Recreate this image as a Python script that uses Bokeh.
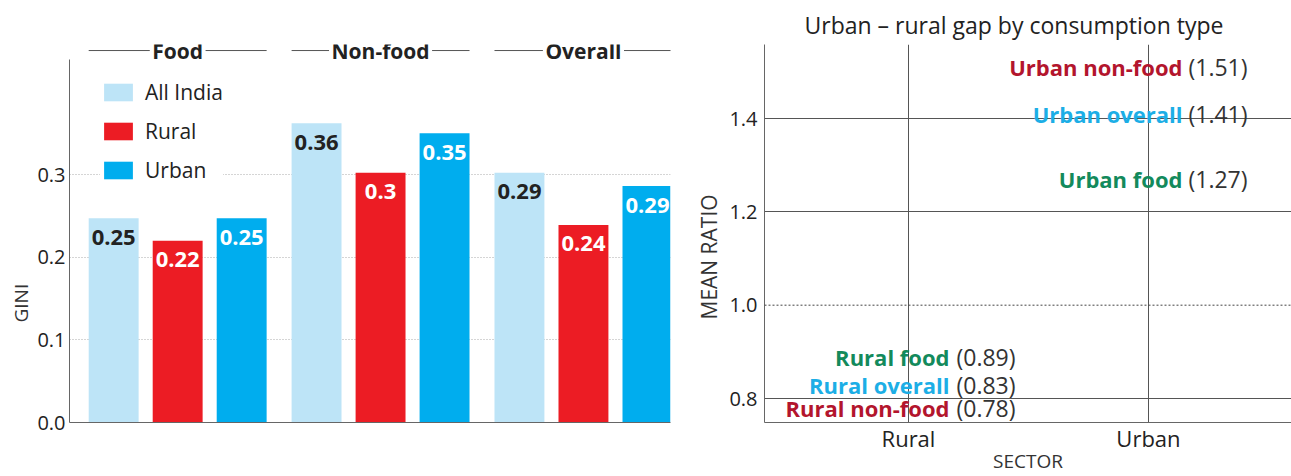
from bokeh.plotting import figure
from bokeh.layouts import row
from bokeh.models import Range1d, FixedTicker, ColumnDataSource, Span, LabelSet, Title
from bokeh.core.properties import value
from bokeh.embed import file_html
from bokeh.resources import INLINE

FONT = "Open Sans"

# ---------------- data: left chart (Gini) ----------------
groups = ["Food", "Non-food", "Overall"]
series = ["All India", "Rural", "Urban"]
all_india = [0.247, 0.362, 0.302]
rural = [0.220, 0.302, 0.239]
urban = [0.247, 0.350, 0.286]
all_india_labels = ["0.25", "0.36", "0.29"]
rural_labels = ["0.22", "0.3", "0.24"]
urban_labels = ["0.25", "0.35", "0.29"]
gini_ticks = [0.0, 0.1, 0.2, 0.3]
gini_tick_labels = ["0.0", "0.1", "0.2", "0.3"]

# ---------------- data: right chart (mean ratio) ----------------
sectors = ["Rural", "Urban"]
gap_sector = ["Urban", "Urban", "Urban", "Rural", "Rural", "Rural"]
gap_type = ["non-food", "overall", "food", "food", "overall", "non-food"]
gap_ratio = [1.51, 1.41, 1.27, 0.89, 0.83, 0.78]
ratio_ticks = [0.8, 1.0, 1.2, 1.4]
ratio_tick_labels = ["0.8", "1.0", "1.2", "1.4"]

# ---------------- styles ----------------
series_colors = {"All India": "#bde4f7", "Rural": "#ec1c24", "Urban": "#00adee"}
series_text_colors = {"All India": "#222222", "Rural": "#ffffff", "Urban": "#ffffff"}
type_colors = {"non-food": "#b3152d", "overall": "#1caee6", "food": "#138a5c"}
AXIS_COLOR = "#666666"
TEXT_COLOR = "#222222"
GROUP_STEP = 3.17
BAR_W = 0.78
HEADER_Y = 0.450
TOP_B = 44
BOT_B = 50
H = 476

# ================= left chart =================
left = figure(width=682, height=H, output_backend="svg", toolbar_location=None,
              x_range=Range1d(-0.69, 8.70), y_range=Range1d(0, 0.4573),
              min_border_left=69, min_border_right=12, min_border_top=TOP_B,
              min_border_bottom=BOT_B)
left.outline_line_color = None
left.background_fill_color = "white"

series_values = [all_india, rural, urban]
series_labels = [all_india_labels, rural_labels, urban_labels]
for s, name in enumerate(series):
    src = ColumnDataSource(dict(
        x=[g * GROUP_STEP + s for g in range(len(groups))],
        top=series_values[s],
        label=series_labels[s],
    ))
    left.vbar(x="x", top="top", width=BAR_W, source=src,
              fill_color=series_colors[name], line_color=None,
              legend_label=name)
    left.text(x="x", y="top", text="label", source=src,
              text_align="center", text_baseline="middle", y_offset=19,
              text_font=value(FONT), text_font_size="22px",
              text_font_style="bold", text_color=series_text_colors[name])

# group headers with side rules
hdr = ColumnDataSource(dict(
    x0=[g * GROUP_STEP - BAR_W / 2 for g in range(len(groups))],
    x1=[g * GROUP_STEP + len(series) - 1 + BAR_W / 2 for g in range(len(groups))],
    xc=[g * GROUP_STEP + (len(series) - 1) / 2 for g in range(len(groups))],
    y=[HEADER_Y] * len(groups),
    name=groups,
))
left.segment(x0="x0", y0="y", x1="x1", y1="y", source=hdr,
             line_color="#555555", line_width=1)
left.add_layout(LabelSet(x="xc", y="y", text="name", source=hdr,
                         text_align="center", text_baseline="middle",
                         text_font=value(FONT), text_font_size="21px",
                         text_font_style="bold", text_color=TEXT_COLOR,
                         background_fill_color="white",
                         border_line_color="white", border_line_width=5))

# axes
left.xaxis.ticker = FixedTicker(ticks=[])
left.xaxis.major_label_text_font_size = "0px"
left.xaxis.major_tick_line_color = None
left.xaxis.minor_tick_line_color = None
left.xaxis.major_tick_out = 0
left.xaxis.major_tick_in = 0
left.xaxis.axis_line_color = AXIS_COLOR

left.yaxis.ticker = FixedTicker(ticks=gini_ticks)
left.yaxis.major_label_overrides = {t: l for t, l in zip(gini_ticks, gini_tick_labels)}
left.yaxis.major_tick_line_color = None
left.yaxis.minor_tick_line_color = None
left.yaxis.major_tick_out = 0
left.yaxis.major_tick_in = 0
left.yaxis.axis_line_color = AXIS_COLOR
left.yaxis.bounds = (0, 0.4391)
left.yaxis.major_label_text_font = FONT
left.yaxis.major_label_text_font_size = "20px"
left.yaxis.major_label_text_color = TEXT_COLOR
left.yaxis.major_label_standoff = 4

gini_title = Title(text="GINI", align="left", offset=100, standoff=2,
                   text_font=FONT, text_font_size="19px", text_font_style="normal",
                   text_color="#333333")
left.add_layout(gini_title, "left")

left.xgrid.grid_line_color = None
left.ygrid.ticker = FixedTicker(ticks=[t for t in gini_ticks if t > 0])
left.ygrid.grid_line_color = "#aaaaaa"
left.ygrid.grid_line_dash = "1 2"

leg = left.legend[0]
leg.location = (31, 238)
leg.orientation = "vertical"
leg.border_line_color = None
leg.background_fill_color = "white"
leg.background_fill_alpha = 1.0
leg.padding = 0
leg.margin = 0
leg.spacing = 11
leg.glyph_width = 36
leg.glyph_height = 22
leg.label_standoff = 9
leg.label_text_font = FONT
leg.label_text_font_size = "21px"
leg.label_text_color = TEXT_COLOR

# ================= right chart =================
right = figure(width=609, height=H, output_backend="svg", toolbar_location=None,
               x_range=Range1d(-0.6, 1.596), y_range=Range1d(0.7486, 1.5586),
               min_border_left=82, min_border_right=0, min_border_top=TOP_B,
               min_border_bottom=BOT_B)
right.outline_line_color = None
right.title.text = "Urban \u2013 rural gap by consumption type"
right.title.text_font = FONT
right.title.text_font_size = "23px"
right.title.text_font_style = "normal"
right.title.text_color = TEXT_COLOR
right.title.align = "left"
right.title.offset = 40
right.title.standoff = 7

name_offsets = {"Rural": 41, "Urban": 34}
value_offsets = {"Rural": 48, "Urban": 40}
for sec in sectors:
    idx = [i for i, s in enumerate(gap_sector) if s == sec]
    src = ColumnDataSource(dict(
        x=[sectors.index(sec)] * len(idx),
        y=[gap_ratio[i] for i in idx],
        name=[f"{gap_sector[i]} {gap_type[i]}" for i in idx],
        val=[f"({gap_ratio[i]:.2f})" for i in idx],
        color=[type_colors[gap_type[i]] for i in idx],
    ))
    right.text(x="x", y="y", text="name", source=src, text_color="color",
               text_align="right", text_baseline="middle", x_offset=name_offsets[sec],
               text_font=value(FONT), text_font_size="22px", text_font_style="bold")
    right.text(x="x", y="y", text="val", source=src, text_color="#333333",
               text_align="left", text_baseline="middle", x_offset=value_offsets[sec],
               text_font=value(FONT), text_font_size="23px")

right.add_layout(Span(location=1.0, dimension="width", line_color="#444444",
                      line_dash="2 2", line_width=1), "center")

right.xaxis.ticker = FixedTicker(ticks=list(range(len(sectors))))
right.xaxis.major_label_overrides = {i: s for i, s in enumerate(sectors)}
right.xaxis.major_tick_line_color = None
right.xaxis.minor_tick_line_color = None
right.xaxis.major_tick_out = 0
right.xaxis.major_tick_in = 0
right.xaxis.axis_line_color = AXIS_COLOR
right.xaxis.major_label_text_font = FONT
right.xaxis.major_label_text_font_size = "22px"
right.xaxis.major_label_text_color = TEXT_COLOR
right.xaxis.major_label_standoff = 0
right.xaxis.axis_label = "SECTOR"
right.xaxis.axis_label_text_font = FONT
right.xaxis.axis_label_text_font_size = "19px"
right.xaxis.axis_label_text_font_style = "normal"
right.xaxis.axis_label_text_color = "#333333"
right.xaxis.axis_label_standoff = -8

right.yaxis.ticker = FixedTicker(ticks=ratio_ticks)
right.yaxis.major_label_overrides = {t: l for t, l in zip(ratio_ticks, ratio_tick_labels)}
right.yaxis.major_tick_line_color = None
right.yaxis.minor_tick_line_color = None
right.yaxis.major_tick_out = 0
right.yaxis.major_tick_in = 0
right.yaxis.axis_line_color = AXIS_COLOR
right.yaxis.major_label_text_font = FONT
right.yaxis.major_label_text_font_size = "20px"
right.yaxis.major_label_text_color = TEXT_COLOR
right.yaxis.major_label_standoff = 7

ratio_title = Title(text="MEAN RATIO", align="left", offset=103, standoff=8,
                    text_font=FONT, text_font_size="21px", text_font_style="normal",
                    text_color="#333333")
right.add_layout(ratio_title, "left")

right.xgrid.grid_line_color = "#555555"
right.xgrid.grid_line_width = 1
right.ygrid.ticker = FixedTicker(ticks=[t for t in ratio_ticks if t != 1.0])
right.ygrid.grid_line_color = "#555555"
right.ygrid.grid_line_width = 1

layout = row(left, right)
open("out.html", "w").write(file_html(layout, INLINE))
